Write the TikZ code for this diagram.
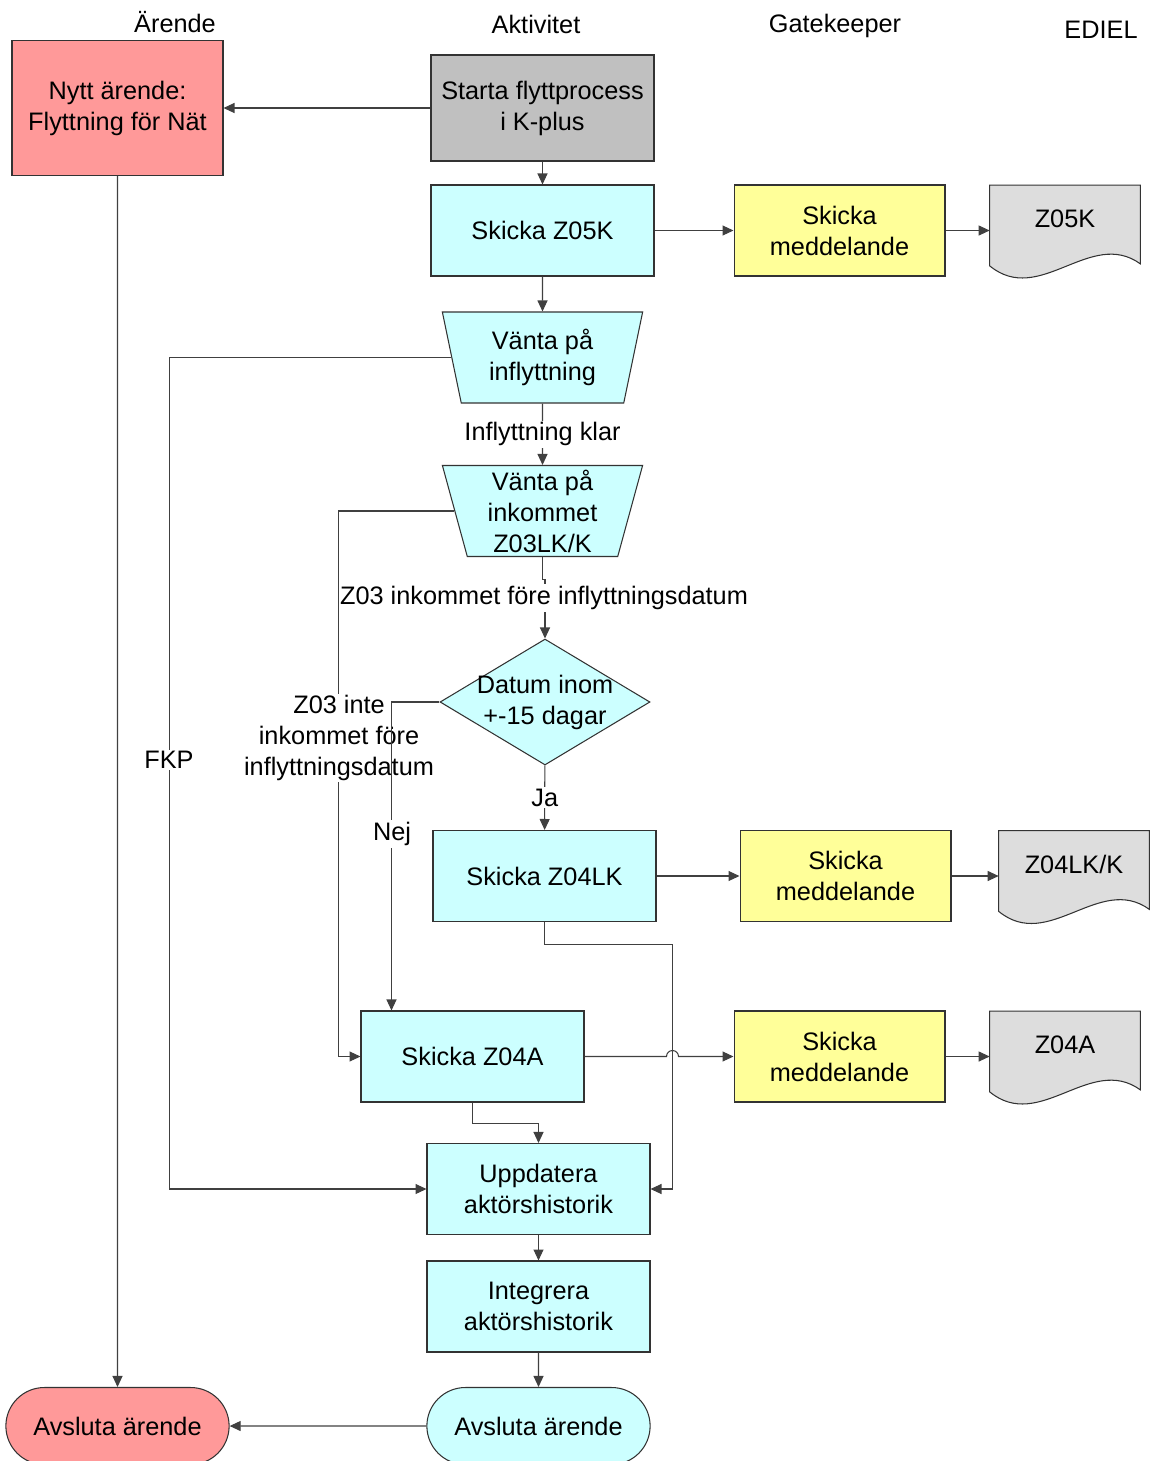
\documentclass[tikz,border=0pt]{standalone}
\usepackage{fontspec}
\setmainfont{Liberation Sans}
\usepackage{tikz}
\usetikzlibrary{shapes.geometric, shapes.misc, arrows.meta, positioning, calc, backgrounds}
\definecolor{redcase}{HTML}{FF9999}
\definecolor{cyanact}{HTML}{CCFFFF}
\definecolor{yellowgk}{HTML}{FFFF99}
\definecolor{grayact}{HTML}{C0C0C0}
\definecolor{graydoc}{HTML}{DDDDDD}
\tikzstyle{block} = [rectangle, minimum width=4.46cm, minimum height=1.82cm,
    align=center, draw=black!80, line width=0.6pt]
\tikzstyle{actblock} = [block, fill=cyanact]
\tikzstyle{startblock} = [block, fill=grayact, minimum height=2.12cm]
\tikzstyle{caseblock} = [block, fill=redcase, minimum width=4.22cm, minimum height=2.7cm]
\tikzstyle{gkblock} = [block, fill=yellowgk, minimum width=4.22cm]
\tikzstyle{docblock} = [rectangle, minimum width=3cm, minimum height=1.8cm,
    text height=0.36cm, text depth=0.48cm]
\tikzstyle{docline} = [draw=black!80, fill=graydoc, line width=0.6pt]
\tikzstyle{waitblock} = [trapezium, shape border rotate=180, trapezium angle=77.6,
    trapezium stretches=true, minimum width=4.02cm, minimum height=1.82cm,
    inner sep=0pt, align=center, draw=black!80, fill=cyanact, line width=0.6pt]
\tikzstyle{decision} = [diamond, minimum width=4.2cm, minimum height=2.52cm,
    inner sep=0pt, draw=black!80, fill=cyanact, line width=0.6pt]
\tikzstyle{endblock} = [rounded rectangle, minimum width=4.7cm, minimum height=1.54cm,
    draw=black!80, line width=0.6pt]
\tikzstyle{arrow} = [draw=black!75, line width=0.6pt, -{Triangle[length=0.22cm,width=0.2cm]}]
\tikzstyle{lbl} = [fill=white, inner sep=1pt, align=center]
% outline of an EDIEL document, wavy at the bottom
\newcommand{\docoutline}[1]{%
  \begin{scope}[on background layer]
    \draw[docline] (#1.north west) -- (#1.north east) -- ([yshift=0.24cm]#1.south east)
      .. controls ([shift={(-50,-48)}]#1.south east) and ([shift={(50,31)}]#1.south west)
      .. ([yshift=0.2cm]#1.south west) -- cycle;
  \end{scope}}

\begin{document}
\begin{tikzpicture}[x=0.02cm, y=-0.02cm, font=\fontsize{14.4}{17.6}\selectfont]
  \useasboundingbox (0,0) rectangle (1152,1461);
  % Lanes
  \node (hcase) at (175,22) {Ärende};
  \node (hact) at (536,24) {Aktivitet};
  \node (hgk) at (835,26) {Gatekeeper};
  \node (hediel) at (1101,30) {EDIEL};

  % Start
  \node[caseblock] (newcase) at (117.5,108) {Nytt ärende:\\Flyttning för Nät};
  \node[startblock] (start) at (542.5,108) {Starta flyttprocess\\i K-plus};
  \node[actblock] (z05k) at (542.5,230.5) {Skicka Z05K};
  \node[gkblock] (msgz05k) at (839.5,230.5) {Skicka\\meddelande};
  \node[docblock] (docz05k) at (1065,230.5) {Z05K};
  \docoutline{docz05k}
  % Waiting
  \node[waitblock] (waitin) at (542.5,357.5) {Vänta på\\inflyttning};
  \node[waitblock] (waitz03) at (542.5,511) {Vänta på\\inkommet\\Z03LK/K};
  \node[decision, label={[align=center]center:Datum inom\\+-15 dagar}] (datum) at (545,702) {};
  % Messages
  \node[actblock] (z04lk) at (544.5,876) {Skicka Z04LK};
  \node[gkblock] (msgz04lk) at (845.5,876) {Skicka\\meddelande};
  \node[docblock] (docz04lk) at (1074,876) {Z04LK/K};
  \docoutline{docz04lk}
  \node[actblock] (z04a) at (472.5,1056.5) {Skicka Z04A};
  \node[gkblock] (msgz04a) at (839.5,1056.5) {Skicka\\meddelande};
  \node[docblock] (docz04a) at (1065,1056.5) {Z04A};
  \docoutline{docz04a}
  % End
  \node[actblock] (update) at (538.5,1189) {Uppdatera\\aktörshistorik};
  \node[actblock] (integrate) at (538.5,1306.5) {Integrera\\aktörshistorik};
  \node[endblock, fill=cyanact] (endact) at (538.5,1426) {Avsluta ärende};
  \node[endblock, fill=redcase] (endcase) at (117.5,1426) {Avsluta ärende};

  % Main arrows
  \draw[arrow] (start) -- (newcase);
  \draw[arrow] (start) -- (z05k);
  \draw[arrow] (z05k) -- (msgz05k);
  \draw[arrow] (msgz05k) -- (docz05k);
  \draw[arrow] (z05k) -- (waitin);
  \draw[arrow] (waitin) -- node[lbl] (lblklar) {Inflyttning klar} (waitz03);
  \draw[arrow] (waitz03.south) -- ++(0,22) -| (datum.north);
  \node[lbl] (lblfore) at (544,598) {Z03 inkommet före inflyttningsdatum};
  \draw[arrow] (datum) -- node[lbl] (lblja) {Ja} (z04lk);
  \draw[arrow] (z04lk) -- (msgz04lk);
  \draw[arrow] (msgz04lk) -- (docz04lk);
  \draw[arrow] (z04lk.south) -- ++(0,22) -| ([xshift=0.44cm]update.east) -- (update.east);
  \draw[arrow] (z04a.east) -- ([xshift=0.32cm]update.east |- z04a.east)
    arc[start angle=180, end angle=0, radius=0.12cm] -- (msgz04a.west);
  \draw[arrow] (msgz04a) -- (docz04a);
  \draw[arrow] (z04a.south) -- ++(0,21) -| (update.north);
  \draw[arrow] (update) -- (integrate);
  \draw[arrow] (integrate) -- (endact);
  \draw[arrow] (endact) -- (endcase);
  \draw[arrow] (newcase) -- (endcase);

  % Side branches
  \draw[arrow] (waitin.west) -- ++(-282,0) |- (update.west);
  \node[lbl] (lblfkp) at (169,760) {FKP};
  \draw[arrow] (waitz03.west) -- ++(-116,0) |- (z04a.west);
  \node[lbl] (lblinte) at (339,738) {Z03 inte\\inkommet före\\inflyttningsdatum};
  \draw[arrow] (datum.west) -| ([xshift=0.62cm]z04a.north west);
  \node[lbl] (lblnej) at (392,834) {Nej};
\end{tikzpicture}
\end{document}
